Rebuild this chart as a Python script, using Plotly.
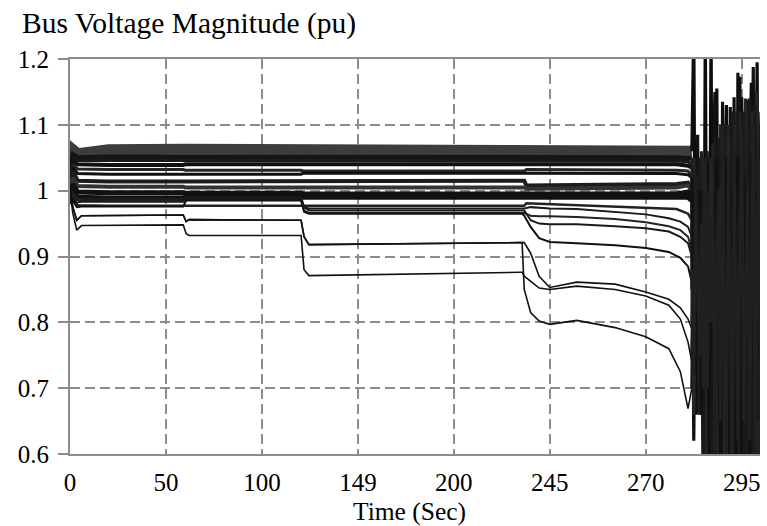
import numpy as np
import plotly.graph_objects as go

# ---------------- axis ticks ----------------
TICK_TIMES = [0, 50, 100, 149, 200, 245, 270, 295]
TICK_LABELS = ["0", "50", "100", "149", "200", "245", "270", "295"]
Y_TICKS = [0.6, 0.7, 0.8, 0.9, 1.0, 1.1, 1.2]
Y_LABELS = ["0.6", "0.7", "0.8", "0.9", "1", "1.1", "1.2"]

# ---------------- flat bus voltages (upper band) ----------------
BAND_T = [0, 1.5, 4, 20, 59, 60, 120, 121, 233, 234, 278, 281, 282]
BAND_V = [
    [1.045, 1.062, 1.056, 1.062, 1.063, 1.063, 1.063, 1.063, 1.063, 1.063, 1.063, 1.062, 1.060],
    [1.040, 1.055, 1.050, 1.051, 1.051, 1.051, 1.051, 1.051, 1.051, 1.050, 1.050, 1.049, 1.050],
    [1.030, 1.050, 1.046, 1.046, 1.046, 1.046, 1.046, 1.045, 1.045, 1.045, 1.045, 1.044, 1.040],
    [1.020, 1.045, 1.040, 1.039, 1.039, 1.040, 1.040, 1.040, 1.040, 1.040, 1.040, 1.038, 1.035],
    [1.010, 1.040, 1.033, 1.032, 1.032, 1.031, 1.031, 1.030, 1.030, 1.032, 1.031, 1.030, 1.020],
    [1.000, 1.035, 1.026, 1.025, 1.025, 1.025, 1.025, 1.027, 1.027, 1.026, 1.026, 1.024, 1.020],
    [1.000, 1.030, 1.015, 1.014, 1.014, 1.014, 1.014, 1.015, 1.015, 1.008, 1.010, 1.012, 1.000],
    [0.990, 1.020, 1.007, 1.006, 1.006, 1.005, 1.005, 1.005, 1.005, 1.003, 1.005, 1.008, 1.000],
    [0.990, 1.010, 0.998, 0.997, 0.997, 0.996, 0.996, 0.995, 0.995, 0.995, 0.995, 0.998, 0.990],
    [0.985, 1.000, 0.990, 0.989, 0.989, 0.990, 0.990, 0.990, 0.990, 0.990, 0.990, 0.990, 0.985],
    [0.985, 0.990, 0.978, 0.977, 0.977, 0.977, 0.977, 0.977, 0.977, 0.981, 0.972, 0.965, 0.955],
]
BAND_COLORS = ["#3d3d3d", "#151515", "#1a1a1a", "#111111", "#262626", "#111111",
               "#1c1c1c", "#333333", "#111111", "#111111", "#222222"]
BAND_WIDTHS = [11, 5, 3, 4, 3, 3, 4, 4, 5, 5, 2.5]

# ---------------- buses that sag (lower curves) ----------------
CURVE_T = [0, 1.5, 3.5, 6, 59, 60.5, 62, 120, 121.5, 124, 231, 232, 233, 236,
           240, 245, 252, 262, 270, 276, 279, 281, 282]
CURVE_V = [
    # c2
    [0.990, 1.000, 0.990, 0.988, 0.988, 0.988, 0.988, 0.988, 0.975, 0.973, 0.973, 0.973, 0.973,
     0.975, 0.974, 0.973, 0.972, 0.968, 0.964, 0.958, 0.953, 0.945, 0.930],
    # c3
    [0.985, 0.995, 0.986, 0.985, 0.985, 0.986, 0.986, 0.986, 0.970, 0.966, 0.966, 0.966, 0.966,
     0.962, 0.961, 0.961, 0.960, 0.957, 0.952, 0.946, 0.940, 0.930, 0.910],
    # c4
    [0.980, 0.990, 0.982, 0.983, 0.983, 0.990, 0.990, 0.990, 0.975, 0.970, 0.970, 0.970, 0.970,
     0.955, 0.950, 0.949, 0.949, 0.946, 0.943, 0.938, 0.930, 0.920, 0.900],
    # c5
    [0.980, 0.985, 0.975, 0.976, 0.976, 0.985, 0.985, 0.985, 0.968, 0.965, 0.965, 0.965, 0.962,
     0.945, 0.928, 0.922, 0.920, 0.917, 0.913, 0.907, 0.898, 0.885, 0.860],
    # A1
    [1.000, 0.975, 0.955, 0.962, 0.963, 0.953, 0.956, 0.955, 0.930, 0.918, 0.921, 0.921, 0.921,
     0.905, 0.870, 0.853, 0.861, 0.858, 0.846, 0.835, 0.822, 0.805, 0.790],
    # A2
    [1.000, 0.975, 0.955, 0.962, 0.963, 0.953, 0.956, 0.955, 0.930, 0.918, 0.921, 0.921, 0.850,
     0.815, 0.802, 0.797, 0.803, 0.792, 0.778, 0.760, 0.725, 0.669, 0.700],
    # B
    [1.000, 0.965, 0.940, 0.947, 0.948, 0.935, 0.932, 0.932, 0.880, 0.871, 0.876, 0.876, 0.870,
     0.862, 0.852, 0.850, 0.855, 0.850, 0.840, 0.826, 0.805, 0.770, 0.740],
]
CURVE_COLORS = ["#1a1a1a", "#222222", "#1a1a1a", "#111111", "#111111", "#111111", "#111111"]
CURVE_WIDTHS = [2, 2, 2, 2, 1.6, 1.6, 1.6]

# ---------------- voltage collapse oscillations ----------------
CHAOS_T = [282.0, 282.5, 283.0, 283.5, 284.0, 284.5, 285.0, 285.5, 286.0, 286.5,
           287.0, 287.5, 288.0, 288.5, 289.0, 289.5, 290.0, 290.5, 291.0, 291.5,
           292.0, 292.5, 293.0, 293.5, 294.0, 294.5, 295.0, 295.5, 296.0, 296.5,
           297.0, 297.5, 298.0, 298.5, 299.0, 299.5, 300.0]
CHAOS_V = [
    [1.06, 1.25, 0.70, 0.90, 0.68, 1.00, 0.58, 1.25, 0.60, 0.70, 1.25, 0.55, 0.95, 1.155, 0.60, 1.00,
     0.62, 1.00, 1.13, 0.58, 1.05, 0.60, 0.90, 0.60, 1.179, 0.60, 1.142, 0.58, 1.05, 0.60, 1.00, 1.164,
     0.60, 0.95, 1.195, 0.65, 1.10],
    [1.00, 0.62, 0.95, 1.085, 0.66, 0.95, 0.60, 0.90, 0.58, 1.02, 0.62, 1.00, 1.15, 0.60, 0.90, 0.60,
     1.135, 0.58, 0.95, 0.62, 1.127, 0.60, 1.142, 0.65, 0.95, 1.173, 0.60, 1.00, 0.58, 1.138, 0.60, 0.95,
     1.188, 0.60, 1.05, 1.10, 0.70],
    [0.95, 0.70, 1.05, 0.66, 1.00, 0.70, 1.02, 0.55, 1.05, 0.58, 1.00, 0.60, 1.08, 0.55, 1.06, 0.60,
     1.02, 0.55, 1.10, 0.60, 1.00, 0.55, 1.12, 0.60, 1.05, 0.58, 1.10, 0.60, 1.12, 0.55, 1.10, 0.60,
     1.12, 0.58, 1.15, 0.60, 1.10],
    [0.85, 1.05, 0.68, 1.00, 0.70, 1.06, 0.55, 1.00, 0.60, 1.05, 0.55, 1.07, 0.58, 1.02, 0.55, 1.10,
     0.60, 1.06, 0.56, 1.10, 0.55, 1.08, 0.60, 1.10, 0.55, 1.08, 0.60, 1.12, 0.56, 1.10, 0.60, 1.10,
     0.55, 1.12, 0.60, 1.10, 0.60],
    [0.75, 0.90, 0.80, 0.68, 0.95, 0.75, 0.62, 0.85, 1.00, 0.70, 0.58, 0.90, 0.75, 1.00, 0.62, 0.80,
     0.95, 0.58, 0.85, 1.02, 0.65, 0.80, 1.00, 0.58, 0.90, 1.05, 0.62, 0.85, 1.00, 0.58, 0.95, 1.05,
     0.60, 0.90, 1.05, 0.62, 0.90],
    [0.90, 0.80, 0.95, 0.72, 0.85, 1.00, 0.66, 0.90, 0.75, 0.58, 0.95, 1.00, 0.62, 0.88, 1.02, 0.60,
     0.78, 1.00, 0.70, 0.55, 0.92, 1.05, 0.60, 0.85, 0.70, 1.02, 0.58, 0.95, 0.75, 1.05, 0.60, 0.85,
     1.02, 0.62, 0.80, 1.08, 0.70],
    [0.70, 0.95, 0.66, 1.05, 0.80, 0.66, 1.00, 0.62, 0.90, 1.05, 0.70, 0.55, 1.00, 0.80, 0.60, 1.05,
     0.70, 0.95, 0.60, 0.85, 1.05, 0.62, 0.90, 1.08, 0.60, 0.80, 1.05, 0.58, 0.90, 0.70, 1.08, 0.62,
     0.95, 0.70, 1.10, 0.80, 0.60],
    [1.05, 0.78, 0.90, 1.02, 0.66, 0.88, 0.95, 0.60, 0.80, 0.95, 0.60, 0.85, 0.95, 0.58, 0.95, 0.70,
     1.05, 0.60, 0.98, 0.70, 0.60, 1.00, 0.65, 0.98, 0.60, 1.00, 0.70, 0.58, 1.08, 0.62, 0.90, 0.58,
     1.05, 0.70, 0.60, 1.00, 1.05],
    [0.98, 0.66, 1.00, 0.75, 1.04, 0.68, 0.90, 1.05, 0.58, 0.85, 1.05, 0.62, 0.90, 1.04, 0.58, 0.95,
     1.06, 0.60, 0.90, 1.08, 0.58, 0.95, 1.10, 0.60, 0.98, 1.12, 0.58, 0.95, 1.14, 0.60, 1.00, 1.12,
     0.58, 0.98, 1.15, 0.60, 1.00],
    [0.80, 1.00, 0.72, 0.95, 1.05, 0.80, 0.60, 0.98, 1.06, 0.62, 0.90, 0.58, 1.05, 0.70, 1.08, 0.60,
     0.90, 1.10, 0.62, 1.00, 0.70, 1.12, 0.58, 1.00, 1.12, 0.62, 0.90, 1.12, 0.60, 1.00, 1.14, 0.60,
     0.95, 1.13, 0.65, 1.00, 1.12],
    [1.02, 0.85, 0.72, 0.90, 1.00, 0.66, 0.95, 0.78, 1.04, 0.60, 0.95, 0.80, 0.60, 1.05, 0.78, 0.55,
     1.00, 0.82, 1.05, 0.60, 0.88, 1.00, 0.70, 0.58, 1.05, 0.85, 0.60, 1.02, 0.75, 0.98, 0.58, 1.05,
     0.80, 0.60, 1.00, 0.75, 0.95],
    [0.88, 0.72, 1.00, 0.85, 0.75, 0.95, 0.70, 1.05, 0.70, 1.00, 0.80, 0.95, 0.60, 0.90, 1.00, 0.65,
     1.10, 0.75, 0.60, 1.05, 0.85, 0.60, 1.05, 0.80, 0.62, 0.95, 1.08, 0.65, 0.85, 1.00, 0.62, 0.90,
     1.10, 0.58, 0.95, 1.05, 0.60],
]
CHAOS_COLORS = ["#0d0d0d", "#111111", "#1a1a1a", "#222222", "#151515", "#2a2a2a",
                "#111111", "#1f1f1f", "#262626", "#1a1a1a", "#111111", "#202020"]


# ---------------- time -> axis position (non-uniform time axis) ----------------
SCALE_T = TICK_TIMES + [320]
SCALE_P = list(range(len(SCALE_T)))


def pos(t):
    return np.interp(np.asarray(t, dtype=float), SCALE_T, SCALE_P)


fig = go.Figure()
for vals, col, w in zip(BAND_V, BAND_COLORS, BAND_WIDTHS):
    fig.add_trace(go.Scatter(x=pos(BAND_T), y=vals, mode="lines",
                             line=dict(color=col, width=w), hoverinfo="skip"))
for vals, col, w in zip(CURVE_V, CURVE_COLORS, CURVE_WIDTHS):
    fig.add_trace(go.Scatter(x=pos(CURVE_T), y=vals, mode="lines",
                             line=dict(color=col, width=w), hoverinfo="skip"))
for vals, col in zip(CHAOS_V, CHAOS_COLORS):
    fig.add_trace(go.Scatter(x=pos(CHAOS_T), y=vals, mode="lines",
                             line=dict(color=col, width=3.2), hoverinfo="skip"))

GRID = "#8c8c8c"
FONT = "Liberation Serif"
fig.update_layout(
    width=767, height=526,
    margin=dict(l=70, r=7, t=59, b=72),
    plot_bgcolor="white", paper_bgcolor="white",
    showlegend=False,
    font=dict(family=FONT, size=25, color="black"),
    title=dict(text="Bus Voltage Magnitude (pu)", xref="container", yref="container",
               x=22 / 767, xanchor="left", y=1 - 23 / 526, yanchor="middle",
               font=dict(family=FONT, size=29.5, color="black")),
)
fig.update_xaxes(
    range=[0, 7.19], tickmode="array", tickvals=pos(TICK_TIMES), ticktext=TICK_LABELS,
    showgrid=True, gridcolor=GRID, gridwidth=1.5, griddash="10px,5px",
    showline=True, linecolor=GRID, linewidth=2, mirror=True,
    ticks="", zeroline=False, ticklabelstandoff=5,
)
fig.update_yaxes(
    range=[0.6, 1.2], tickmode="array", tickvals=Y_TICKS, ticktext=Y_LABELS,
    showgrid=True, gridcolor=GRID, gridwidth=1.5, griddash="10px,5px",
    showline=True, linecolor=GRID, linewidth=2,
    ticks="outside", ticklen=10, tickwidth=2, tickcolor=GRID, zeroline=False,
    ticklabelstandoff=4,
)
fig.add_annotation(text="Time (Sec)", xref="paper", yref="paper", x=(409 - 70) / 690,
                   y=(454 - 511.5) / 395, xanchor="center", yanchor="middle", showarrow=False,
                   font=dict(family=FONT, size=25.5, color="black"))

fig.write_html("out.html")
